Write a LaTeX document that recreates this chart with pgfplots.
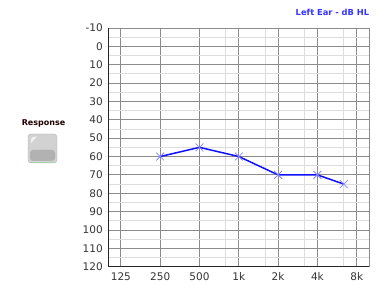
\documentclass[border=0pt]{standalone}
\usepackage{fontspec}
\setmainfont{DejaVu Sans}
\usepackage{pgfplots}
\pgfplotsset{compat=1.18}
\definecolor{ticktxt}{HTML}{333333}
\definecolor{majgrid}{HTML}{8C8C8C}
\definecolor{mingrid}{HTML}{DDDDDD}
\definecolor{titleblue}{HTML}{3333FF}
\definecolor{linblue}{HTML}{1010FF}
\definecolor{markblue}{HTML}{8888FF}
\begin{document}
\begin{tikzpicture}[x=1pt,y=1pt]
\path (0,0) rectangle (377,283);
\begin{axis}[
  at={(108.3pt,16.3pt)}, anchor=south west,
  scale only axis, width=261pt, height=238.7pt,
  xmin=-0.32, xmax=6.32,
  ymin=-10, ymax=120, y dir=reverse,
  xtick={0,1,2,3,4,5,6},
  xticklabels={125,250,500,1k,2k,4k,8k},
  minor xtick={2.67,3.67,4.67,5.67},
  ytick={-10,0,10,20,30,40,50,60,70,80,90,100,110,120},
  yticklabels={-10,0,10,20,30,40,50,60,70,80,90,100,110,120},
  minor ytick={-5,5,15,25,35,45,55,65,75,85,95,105,115},
  grid=both,
  major grid style={majgrid, line width=0.9pt},
  minor grid style={mingrid, line width=0.9pt},
  axis line style={majgrid, line width=0.9pt},
  tick style={draw=none},
  tick label style={text=ticktxt, font=\fontsize{10.5}{12}\selectfont},
  xticklabel style={yshift=-2pt},
  yticklabel style={xshift=-2pt},
  clip=false,
]
\addplot[linblue, line width=1.5pt, mark=x, mark size=5.5pt,
  mark options={markblue, line width=0.8pt}]
  coordinates {(1,60) (2,55) (3,60) (4,70) (5,70) (5.67,75)};
\draw[black!85, line width=1.2pt] (axis description cs:0,1) -- (axis description cs:0,0) -- (axis description cs:1,0);
\end{axis}
\node[anchor=east, text=titleblue, font=\bfseries\fontsize{8.3}{10}\selectfont, inner sep=0pt] at (369.3,270.5) {Left Ear - dB HL};
\node[text=black!80!red!60!black, font=\bfseries\fontsize{8}{10}\selectfont, inner sep=0pt] at (43.5,160) {Response};
\draw[gray!60, fill=gray!35, rounded corners=3pt] (28,120) rectangle (57,149);
\fill[gray!60, rounded corners=3pt] (30,122) rectangle (55,133);
\draw[green!30!gray!50, line width=0.8pt] (30,120.8) -- (55,120.8);
\fill[white, opacity=0.7, rounded corners=2pt] (31,146) -- (31,139) -- (34,144) -- (38,146.5) -- cycle;
\end{tikzpicture}
\end{document}
